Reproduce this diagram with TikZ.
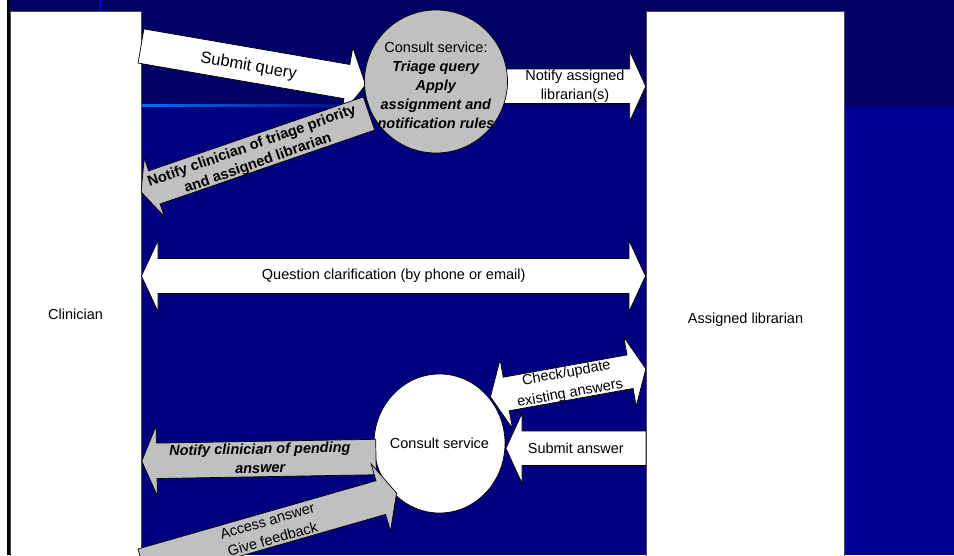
\documentclass[tikz,border=0pt]{standalone}
\usepackage{fontspec}
\setmainfont{Liberation Sans}
\usetikzlibrary{shapes.geometric}
\definecolor{navytop}{RGB}{0,0,102}
\definecolor{navybody}{RGB}{0,0,128}
\definecolor{bluebody}{RGB}{0,0,153}
\definecolor{arrowgray}{RGB}{192,192,192}
\definecolor{glow}{RGB}{0,110,255}
% single block arrow: options, tail centre, angle, length, shaft half width, head half width, head length
\newcommand{\blockarrow}[7]{%
  \path[#1, shift={#2}, rotate=#3] (0,-#5) -- ({#4-#7},-#5) -- ({#4-#7},-#6) -- (#4,0)
    -- ({#4-#7},#6) -- ({#4-#7},#5) -- (0,#5) -- cycle;}
% double block arrow: options, first tip, angle, length, shaft half width, head half width, head length
\newcommand{\dblarrow}[7]{%
  \path[#1, shift={#2}, rotate=#3] (0,0) -- (#7,-#6) -- (#7,-#5) -- ({#4-#7},-#5) -- ({#4-#7},-#6)
    -- (#4,0) -- ({#4-#7},#6) -- ({#4-#7},#5) -- (#7,#5) -- (#7,#6) -- cycle;}
\tikzset{
  warrow/.style={draw=black, fill=white, line width=0.7pt, line join=miter},
  garrow/.style={draw=black, fill=arrowgray, line width=0.7pt, line join=miter},
  actor/.style={draw=black!70, fill=white, line width=0.8pt},
  lbl/.style={inner sep=0pt, align=center, text=black, font=\fontsize{14.5pt}{19pt}\selectfont},
  bilbl/.style={lbl, font=\fontsize{14.5pt}{19pt}\selectfont\bfseries\itshape}
}
\begin{document}
\begin{tikzpicture}[x=1pt, y=-1pt]
\useasboundingbox (0,0) rectangle (954,555);
\clip (0,0) rectangle (954,555);
% background
\fill[white] (0,0) rectangle (954,555);
\fill[navytop] (9,0) rectangle (954,107);
\fill[navybody] (9,107) rectangle (845,555);
\fill[bluebody] (845,107) rectangle (954,555);
\fill[black] (7.3,0) rectangle (9.6,555);
\fill[blue!75!navytop] (99.3,0) rectangle (101,11);
\shade[left color=glow, middle color=blue!80!black, right color=navytop] (141,104) rectangle (385,106.5);
% actor boxes
\path[actor] (10,11) rectangle (141,600);
\path[actor] (646,11) rectangle (844,600);
\node[lbl] (clin) at (75.5,314.5) {Clinician};
\node[lbl] (lib) at (745.5,319.5) {Assigned librarian};
% top part
\blockarrow{warrow}{(141,46)}{-9.8}{228}{17.3}{34.5}{19}
\blockarrow{warrow}{(488,86.3)}{0}{157.7}{17.2}{35}{16}
\blockarrow{garrow}{(369,113.5)}{199}{241}{17.5}{31}{14}
\node[circle, draw=black, fill=arrowgray, line width=0.7pt, minimum size=143pt, inner sep=0pt] (svc1) at (436,81.5) {};
\node[lbl] (svc1txt) at (436,85.5) {Consult service:\\\textbf{\textit{Triage query}}\\\textbf{\textit{Apply}}\\\textbf{\textit{assignment and}}\\\textbf{\textit{notification rules}}};
\node[lbl, font=\fontsize{16.5pt}{19pt}\selectfont, rotate=-9.8] (tsubmit) at (248.5,66.5) {Submit query};
\node[lbl] (tnotlib) at (575,86.5) {Notify assigned\\librarian(s)};
\node[lbl, font=\fontsize{14.6pt}{18pt}\selectfont\bfseries, rotate=19.5] (ttriage) at (255,155) {Notify clinician of triage priority\\and assigned librarian};
% clarification
\dblarrow{warrow}{(141.5,276)}{0}{504}{17.5}{35.5}{16.5}
\node[lbl] (tclar) at (393.7,275.7) {Question clarification (by phone or email)};
% bottom part
\node[ellipse, draw=black, fill=white, line width=0.7pt, minimum width=131pt, minimum height=139pt, inner sep=0pt] (svc2) at (439.5,443.5) {};
\node[lbl] (svc2txt) at (439.5,443.5) {Consult service};
\dblarrow{warrow}{(490.5,396.8)}{10.2}{157.8}{17}{35}{16}
\blockarrow{warrow}{(646,448.3)}{180}{140}{17.2}{35}{16}
\blockarrow{garrow}{(376,457)}{181}{234.3}{17.7}{35}{15}
\blockarrow{garrow}{(142.8,565.8)}{16}{264}{17.5}{35}{16.4}
\node[lbl, font=\fontsize{14.5pt}{20.5pt}\selectfont, rotate=10.2] (tcheck) at (568.3,383.5) {Check/update\\existing answers};
\node[lbl] (tsubans) at (575.8,448.3) {Submit answer};
\node[bilbl, rotate=1] (tpend) at (260,458.3) {Notify clinician of pending\\answer};
\node[lbl, rotate=16] (taccess) at (270,530) {Access answer\\Give feedback};
\end{tikzpicture}
\end{document}
